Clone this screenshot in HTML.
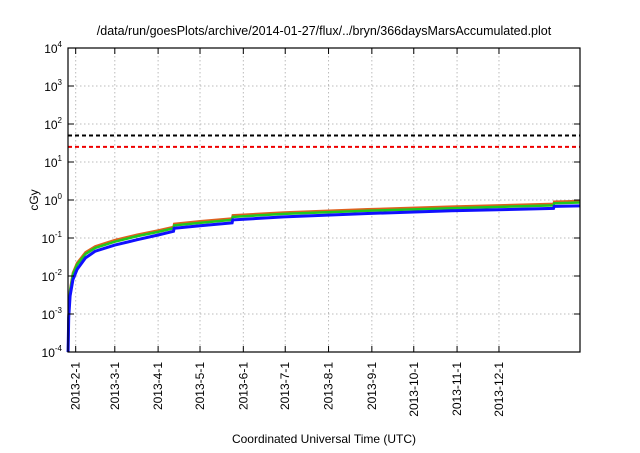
<!DOCTYPE html>
<html><head><meta charset="utf-8"><style>
body{margin:0;background:#fff;font-family:"Liberation Sans",sans-serif;}
svg text{font-family:"Liberation Sans",sans-serif;fill:#000;}
</style></head><body>
<svg id="chart" width="640" height="448" viewBox="0 0 640 448" xmlns="http://www.w3.org/2000/svg">
<rect width="640" height="448" fill="#fff"/>
<text x="324" y="35" font-size="12.5" text-anchor="middle">/data/run/goesPlots/archive/2014-01-27/flux/../bryn/366daysMarsAccumulated.plot</text>
<text transform="translate(38,200) rotate(-90)" font-size="12" text-anchor="middle">cGy</text>
<text x="324" y="443" font-size="12" text-anchor="middle">Coordinated Universal Time (UTC)</text>
<g id="grid"></g><g id="series"></g><g id="axes"></g>
</svg>
<script>
// x in days since 2013-01-01
const tickLabels=["2013-2-1","2013-3-1","2013-4-1","2013-5-1","2013-6-1","2013-7-1","2013-8-1","2013-9-1","2013-10-1","2013-11-1","2013-12-1"];
const tickDays=[31,59,90,120,151,181,212,243,273,304,334];
const yExps=[-4,-3,-2,-1,0,1,2,3,4];
const thresholdValues=[50,25];
const thresholdColors=["#000","#e00"];
const days=[25.6,26,27,29,32,38,45,59,75,90,101,101.5,120,143,143.5,180,240,300,373,373.5,392];
const blueVals=[0.0001,0.0008,0.003,0.008,0.015,0.03,0.045,0.065,0.09,0.12,0.15,0.18,0.21,0.25,0.3,0.36,0.44,0.52,0.6,0.68,0.7];
const greenVals=[0.0001,0.001,0.004,0.011,0.02,0.038,0.055,0.08,0.112,0.145,0.18,0.215,0.25,0.3,0.36,0.43,0.52,0.61,0.72,0.82,0.86];
const redVals=[0.0001,0.001,0.0043,0.012,0.022,0.042,0.06,0.088,0.122,0.158,0.195,0.235,0.275,0.325,0.395,0.47,0.57,0.67,0.79,0.9,0.94];
const L=68,R=580,T=48,B=352,D0=25.5,D1=392;
const xs=d=>L+(d-D0)/(D1-D0)*(R-L);
const ys=v=>B-(Math.log10(v)+4)/8*(B-T);
const NS="http://www.w3.org/2000/svg";
function mk(tag,attrs,parent){const e=document.createElementNS(NS,tag);for(const k in attrs)e.setAttribute(k,attrs[k]);document.getElementById(parent).appendChild(e);return e;}
yExps.forEach(p=>{const y=ys(Math.pow(10,p));
 if(p>-4&&p<4){const g=mk("line",{x1:L,x2:R,y1:y,y2:y,stroke:"#bbb","stroke-dasharray":"1.5,2.5","stroke-width":1},"grid");
 
 }
 mk("line",{x1:L,x2:L+6,y1:y,y2:y,stroke:"#000"},"axes");
 mk("line",{x1:R,x2:R-6,y1:y,y2:y,stroke:"#000"},"axes");
 const t=mk("text",{x:L-6,y:y+5,"font-size":12,"text-anchor":"end"},"axes");
 
 
 t.innerHTML='10<tspan dy="-6" font-size="8">'+p+'</tspan>';
});
tickDays.forEach((d,i)=>{const x=xs(d);
 const g=mk("line",{x1:x,x2:x,y1:T,y2:B,stroke:"#bbb","stroke-dasharray":"1.5,2.5"},"grid");
 
 
 mk("line",{x1:x,x2:x,y1:B,y2:B-6,stroke:"#000"},"axes");
 mk("line",{x1:x,x2:x,y1:T,y2:T+6,stroke:"#000"},"axes");
 const t=mk("text",{transform:`translate(${x+4},${B+10}) rotate(-90)`,"font-size":12,"text-anchor":"end"},"axes");
 
 
 t.textContent=tickLabels[i];
});
const fr=mk("rect",{x:L,y:T,width:R-L,height:B-T,fill:"none",stroke:"#000","stroke-width":1.2},"axes");


thresholdValues.forEach((v,i)=>{const y=ys(v);
 const l=mk("line",{x1:L,x2:R,y1:y,y2:y,stroke:thresholdColors[i],"stroke-width":2,"stroke-dasharray":"4,3"},"series");
 
 
});
[[redVals,"#e0601e","red"],[greenVals,"#1ec81e","green"],[blueVals,"#1010ff","blue"]].forEach(([vals,c,n])=>{
 const pts=days.map((d,i)=>xs(d).toFixed(1)+","+ys(vals[i]).toFixed(1)).join(" ");
 const p=mk("polyline",{points:pts,fill:"none",stroke:c,"stroke-width":n==="blue"?3:2.5},"series");
 
 
});
</script>
</body></html>
